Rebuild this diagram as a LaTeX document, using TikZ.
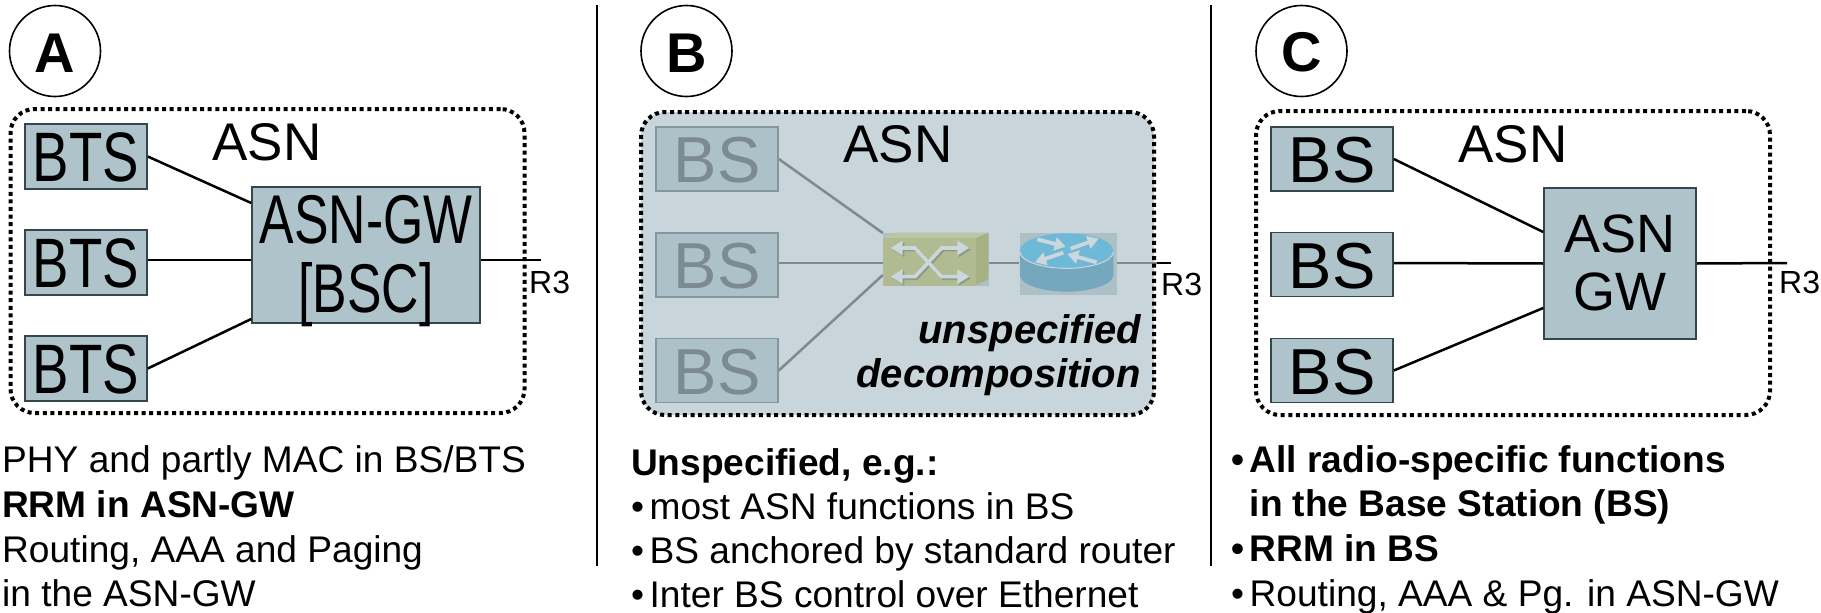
\documentclass[tikz,border=0pt]{standalone}
\usepackage{fontspec}
\usetikzlibrary{arrows.meta,calc}
\setmainfont{Liberation Sans}
\newfontfamily\condfont[FakeStretch=0.78]{Liberation Sans}
\newfontfamily\narrowfont[FakeStretch=0.75]{Liberation Sans}
\definecolor{boxfill}{HTML}{AFC3CA}
\definecolor{boxline}{HTML}{33474D}
\definecolor{panelbg}{HTML}{C8D6DB}
\definecolor{fadefill}{HTML}{ADC1C8}
\definecolor{fadeline}{HTML}{86979C}
\definecolor{fadetext}{HTML}{7B8B8F}
\definecolor{imgbg}{HTML}{ADC0C6}
\definecolor{swfront}{HTML}{B0BB92}
\definecolor{swside}{HTML}{A6B184}
\definecolor{swtop}{HTML}{BDC7A5}
\definecolor{swarrow}{HTML}{CBD7DA}
\definecolor{swshadow}{HTML}{8C9A86}
\definecolor{rttop}{HTML}{6FB9D8}
\definecolor{rtside}{HTML}{75A8BF}
\tikzset{
  asnbox/.style={rectangle,rounded corners=24pt,line width=4pt,dash pattern=on 4pt off 3.6pt,draw=black,inner sep=0pt},
  letterc/.style={circle,draw=black,line width=1.6pt,minimum size=91pt,inner sep=0pt,text height=42pt,font=\fontsize{56}{60}\selectfont\bfseries},
  solidbox/.style={rectangle,draw=boxline,line width=1.6pt,fill=boxfill,inner sep=0pt,text=black},
  fadebox/.style={rectangle,draw=fadeline,line width=1.6pt,fill=fadefill,inner sep=0pt,text=fadetext},
  btstext/.style={text height=51pt,font=\fontsize{70}{76}\condfont},
  bstext/.style={text height=48pt,font=\fontsize{65}{70}\selectfont},
  conn/.style={line width=2.5pt,draw=black},
  fadeconn/.style={line width=2.5pt,draw=fadetext},
  asnlabel/.style={inner sep=0pt,anchor=base,font=\fontsize{53}{60}\selectfont},
  rlabel/.style={inner sep=0pt,anchor=base west,font=\fontsize{32}{36}\selectfont},
  bodytxt/.style={inner sep=0pt,anchor=base west,font=\fontsize{37.1}{42}\selectfont},
  boldtxt/.style={inner sep=0pt,anchor=base west,font=\fontsize{37.1}{42}\selectfont\bfseries},
  divider/.style={line width=2.6pt,draw=black},
  italtxt/.style={inner sep=0pt,anchor=base east,font=\fontsize{40}{44}\selectfont\bfseries\itshape},
  imgback/.style={rectangle,fill=imgbg,inner sep=0pt},
}
\newcommand{\bul}{\makebox[18.5pt][l]{•}}
\begin{document}
\begin{tikzpicture}[x=1pt,y=-1pt]
\useasboundingbox (0,0) rectangle (1821,613);
% dividers
\coordinate (d1t) at (597,5); \coordinate (d1b) at (597,566);
\coordinate (d2t) at (1211,5); \coordinate (d2b) at (1211,566);
\draw[divider] (d1t) -- (d1b);
\draw[divider] (d2t) -- (d2b);
% ---------- A
\node[letterc] (la) at (55,51) {A};
\node[asnbox,minimum width=514pt,minimum height=304pt] (asna) at (267.5,261) {};
\node[solidbox,btstext,minimum width=122pt,minimum height=65pt] (a1) at (86,156.5) {BTS};
\node[solidbox,btstext,minimum width=122pt,minimum height=65pt] (a2) at (86,262.5) {BTS};
\node[solidbox,btstext,minimum width=122pt,minimum height=65pt] (a3) at (86,368.5) {BTS};
\node[solidbox,minimum width=228pt,minimum height=136pt,align=center,font=\fontsize{69}{69}\narrowfont] (ag) at (366,255)
  {\rule{0pt}{50pt}ASN-GW\\\rule[-5pt]{0pt}{5pt}\raisebox{0pt}[\height][0pt]{[BSC]}};
\node[asnlabel] (aasn) at (267,160) {ASN};
\coordinate (ar) at (540.5,260);
\draw[conn] (a1.east) -- ([yshift=52pt]ag.west);
\draw[conn] ([yshift=2.5pt]a2.east) -- ([yshift=-5pt]ag.west);
\draw[conn] (a3.east) -- ([yshift=-64pt]ag.west);
\draw[conn] ([yshift=-5pt]ag.east) -- (ar);
\node[rlabel] (ar3) at (529,293) {R3};
\node[bodytxt] (at1) at (2,472) {PHY and partly MAC in BS/BTS};
\node[boldtxt] (at2) at (2,517) {RRM in ASN-GW};
\node[bodytxt] (at3) at (2,562) {Routing, AAA and Paging};
\node[bodytxt] (at4) at (2,606) {in the ASN-GW};
% ---------- B
\node[letterc] (lb) at (686.5,51) {B};
\node[rectangle,rounded corners=24pt,fill=panelbg,minimum width=513pt,minimum height=303pt,inner sep=0pt] (bgb) at (897.5,263.5) {};
\node[fadebox,bstext,minimum width=122pt,minimum height=64pt] (b1) at (717,159) {BS};
\node[fadebox,bstext,minimum width=122pt,minimum height=64pt] (b2) at (717,265) {BS};
\node[fadebox,bstext,minimum width=122pt,minimum height=64pt] (b3) at (717,370.5) {BS};
\node[imgback,minimum width=106pt,minimum height=53pt] (sw) at (936,259.5) {};
\node[imgback,minimum width=97pt,minimum height=62pt] (rt) at (1068,264) {};
\coordinate (bx) at (1157,263);
\coordinate (br) at (1171,263);
\draw[fadeconn] (b1.east) -- ([yshift=26.5pt]sw.west);
\draw[fadeconn] ([yshift=2pt]b2.east) -- ([yshift=-3.5pt]sw.west);
\draw[fadeconn] (b3.east) -- ([yshift=-15.5pt]sw.west);
\draw[fadeconn] ([yshift=-3.5pt]sw.east) -- ([yshift=1pt]rt.west);
\draw[fadeconn] ([yshift=1pt]rt.east) -- (bx);
\draw[conn] (bx) -- (br);
% switch and router artwork (crop-based local coordinates)
\begin{scope}[shift={(860,220)},x=0.3333pt,y=-0.3333pt]
  \fill[swtop] (70,55) -- (105,38) -- (385,38) -- (347,55) -- cycle;
  \fill[swside] (347,55) -- (385,38) -- (385,178) -- (347,195) -- cycle;
  \fill[swfront] (70,55) rectangle (347,197);
  \begin{scope}[xshift=1.6pt,yshift=-1.6pt]
    \draw[swshadow,line width=3.6pt,{Triangle[length=12pt,width=14pt]}-{Triangle[length=12pt,width=14pt]}] (92,84) -- (165,84) -- (245,170) -- (328,170);
    \draw[swshadow,line width=3.6pt,{Triangle[length=12pt,width=14pt]}-{Triangle[length=12pt,width=14pt]}] (92,170) -- (165,170) -- (245,84) -- (328,84);
  \end{scope}
  \draw[swarrow,line width=3.6pt,{Triangle[length=12pt,width=14pt]}-{Triangle[length=12pt,width=14pt]}] (92,84) -- (165,84) -- (245,170) -- (328,170);
  \draw[swarrow,line width=3.6pt,{Triangle[length=12pt,width=14pt]}-{Triangle[length=12pt,width=14pt]}] (92,170) -- (165,170) -- (245,84) -- (328,84);
  % router
  \fill[rtside] (480,92) -- (480,165) arc[start angle=180,end angle=0,x radius=140,y radius=50] -- (760,92) -- cycle;
  \fill[rttop] (620,92) ellipse[x radius=140,y radius=52];
  \draw[swarrow,line width=1pt] (480,95) arc[start angle=180,end angle=0,x radius=140,y radius=50];
  \draw[swarrow,line width=3.8pt,-{Triangle[length=11pt,width=13pt]}] (532,58) -- (617,80);
  \draw[swarrow,line width=3.8pt,-{Triangle[length=11pt,width=13pt]}] (632,86) -- (716,56);
  \draw[swarrow,line width=3.8pt,-{Triangle[length=11pt,width=13pt]}] (610,98) -- (525,127);
  \draw[swarrow,line width=3.8pt,-{Triangle[length=11pt,width=13pt]}] (710,127) -- (622,102);
\end{scope}
\node[asnbox,minimum width=513pt,minimum height=303pt] (asnb) at (897.5,263.5) {};
\node[asnlabel] (basn) at (898,162) {ASN};
\node[rlabel] (br3) at (1161,295) {R3};
\node[italtxt] (bu) at (1141,343) {unspecified};
\node[italtxt] (bd) at (1141,387) {decomposition};
\node[boldtxt] (bt1) at (631,475) {Unspecified, e.g.:};
\node[bodytxt] (bt2) at (631,519) {\bul most ASN functions in BS};
\node[bodytxt] (bt3) at (631,563) {\bul BS anchored by standard router};
\node[bodytxt] (bt4) at (631,607) {\bul Inter BS control over Ethernet};
% ---------- C
\node[letterc] (lc) at (1301.5,51) {C};
\node[asnbox,minimum width=514pt,minimum height=304pt] (asnc) at (1513,263) {};
\node[solidbox,bstext,minimum width=122pt,minimum height=64pt] (c1) at (1332,159) {BS};
\node[solidbox,bstext,minimum width=122pt,minimum height=64pt] (c2) at (1332,264.5) {BS};
\node[solidbox,bstext,minimum width=122pt,minimum height=64pt] (c3) at (1332,370.5) {BS};
\node[solidbox,minimum width=152pt,minimum height=151pt,align=center,font=\fontsize{54}{58}\selectfont] (cg) at (1620,263.5)
  {\rule{0pt}{40pt}ASN\\\rule[-5pt]{0pt}{5pt}GW};
\node[asnlabel] (casn) at (1513,162) {ASN};
\coordinate (cr) at (1787,263);
\draw[conn] (c1.east) -- ([yshift=31.5pt]cg.west);
\draw[conn] ([yshift=1.5pt]c2.east) -- (cg.west);
\draw[conn] (c3.east) -- ([yshift=-44.5pt]cg.west);
\draw[conn] (cg.east) -- (cr);
\node[rlabel] (cr3) at (1779,293) {R3};
\node[boldtxt] (ct1) at (1231,472) {\bul All radio-specific functions};
\node[boldtxt] (ct2) at (1249.5,516) {in the Base Station (BS)};
\node[boldtxt] (ct3) at (1231,561) {\bul RRM in BS};
\node[bodytxt] (ct4) at (1231,606) {\bul Routing, AAA \& Pg. in ASN-GW};
\end{tikzpicture}
\end{document}
